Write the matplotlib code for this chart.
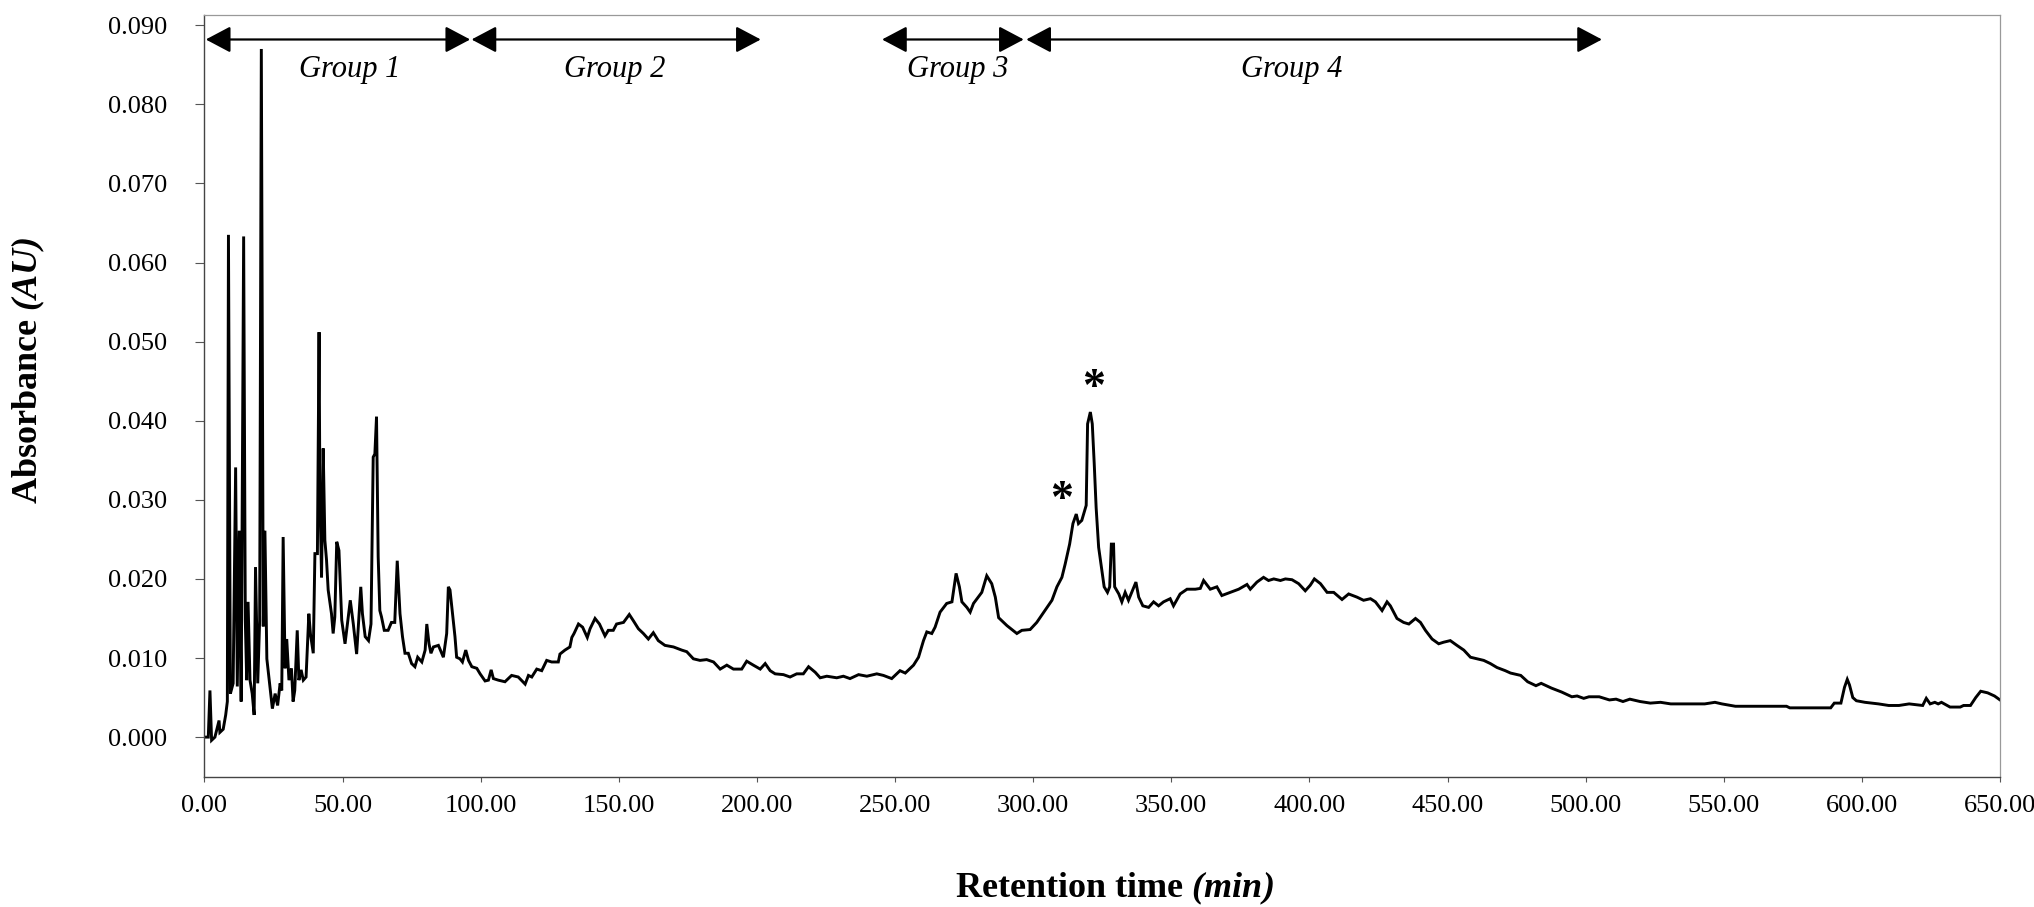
import matplotlib
matplotlib.use('Agg')
import matplotlib.pyplot as plt
from matplotlib.patches import ArrowStyle
from matplotlib.ticker import FormatStrFormatter, MultipleLocator

plt.rcParams['font.family'] = ['Liberation Serif', 'DejaVu Serif']
plt.rcParams['mathtext.fontset'] = 'custom'
plt.rcParams['mathtext.bfit'] = 'Liberation Serif:italic:bold'

# chromatogram trace (min, AU)
ret_time = [
    0.0, 1.4, 2.0, 2.6, 3.8, 5.3, 5.6, 6.8, 7.7, 8.3, 8.7, 9.4, 10.4, 11.3, 11.9,
    12.6, 13.3, 14.2, 14.8, 15.3, 15.8, 16.5, 17.3, 18.0, 18.5, 19.3, 20.0, 20.6,
    21.3, 21.9, 22.6, 23.7, 24.6, 25.6, 26.5, 27.4, 28.0, 28.5, 29.2, 29.8, 30.6,
    31.5, 32.1, 32.7, 33.6, 34.2, 35.0, 35.8, 36.8, 37.8, 38.4, 39.4, 40.0, 40.9,
    41.5, 41.8, 42.4, 43.0, 43.6, 44.2, 44.8, 46.0, 46.6, 47.2, 47.9, 48.7, 49.7,
    50.9, 52.8, 53.9, 55.1, 56.6, 57.2, 58.2, 59.4, 60.3, 61.1, 61.7, 62.3, 62.9,
    63.5, 64.1, 65.1, 66.5, 67.7, 68.9, 69.8, 70.8, 71.7, 72.6, 73.8, 75.0, 76.2,
    77.2, 78.7, 79.9, 80.5, 81.3, 82.0, 82.9, 84.7, 86.5, 87.7, 88.3, 88.9, 89.8,
    90.7, 91.3, 92.5, 93.4, 94.6, 95.6, 96.8, 98.6, 99.8, 101.6, 102.8, 103.8,
    104.6, 106.4, 108.8, 111.2, 113.6, 116.1, 117.3, 118.5, 120.3, 122.1, 123.9,
    125.7, 128.1, 128.7, 130.5, 132.3, 133.0, 133.8, 135.4, 136.9, 138.6, 139.6,
    141.4, 143.0, 145.0, 146.2, 148.0, 149.2, 151.7, 153.8, 155.3, 157.1, 158.9,
    160.7, 162.5, 164.3, 166.7, 169.8, 172.8, 174.6, 177.0, 179.4, 181.8, 184.3,
    186.7, 189.1, 191.5, 194.5, 196.3, 198.7, 201.2, 203.0, 204.8, 206.6, 209.6,
    212.0, 214.4, 216.8, 218.7, 221.1, 222.9, 225.3, 228.9, 231.3, 233.7, 236.8,
    239.8, 243.4, 245.8, 248.8, 251.8, 253.7, 256.7, 258.5, 260.3, 261.5, 263.3,
    264.5, 266.3, 268.7, 270.6, 272.1, 273.3, 274.2, 276.0, 277.2, 278.4, 281.4,
    283.2, 285.0, 286.3, 287.5, 290.5, 294.1, 295.9, 298.9, 301.3, 305.0, 306.8,
    308.6, 310.4, 311.6, 313.2, 314.4, 315.6, 316.4, 317.6, 319.2, 319.7, 320.7,
    321.4, 322.1, 322.8, 323.7, 324.9, 325.7, 326.9, 327.7, 328.3, 329.1, 329.5,
    331.0, 332.1, 333.3, 334.5, 337.2, 338.2, 339.7, 341.8, 343.6, 345.4, 347.2,
    349.6, 350.8, 353.2, 355.7, 358.7, 360.5, 361.7, 364.1, 366.5, 368.3, 371.4,
    374.4, 377.4, 378.6, 381.0, 383.4, 385.2, 387.1, 389.5, 391.3, 393.7, 396.1,
    398.5, 400.3, 401.8, 404.0, 406.4, 408.8, 411.8, 414.2, 417.2, 419.6, 422.1,
    423.9, 426.3, 428.1, 429.3, 431.7, 434.1, 436.0, 438.4, 440.2, 442.0, 444.4,
    446.8, 448.6, 451.0, 453.4, 455.9, 458.3, 460.7, 463.1, 465.5, 467.9, 470.9,
    472.8, 476.5, 479.0, 482.0, 483.9, 487.6, 491.3, 495.0, 496.9, 499.3, 501.2,
    504.9, 508.6, 511.0, 513.5, 516.0, 519.7, 523.4, 527.1, 530.8, 535.7, 543.1,
    546.8, 549.3, 554.2, 561.6, 572.7, 573.9, 588.7, 590.0, 592.4, 593.7, 594.7,
    595.5, 596.7, 598.0, 601.1, 606.0, 609.7, 613.4, 617.1, 622.0, 623.3, 624.7,
    626.4, 627.6, 628.8, 631.9, 635.6, 636.8, 639.3, 641.2, 643.0, 645.5, 648.0,
    650.0,
]
absorbance = [
    0.0000, 0.0000, 0.0059, -0.0004, 0.0000, 0.0021, 0.0006, 0.0010, 0.0028, 0.0045,
    0.0635, 0.0055, 0.0068, 0.0341, 0.0064, 0.0261, 0.0045, 0.0633, 0.0148, 0.0072,
    0.0171, 0.0072, 0.0055, 0.0028, 0.0215, 0.0068, 0.0148, 0.0870, 0.0140, 0.0261,
    0.0099, 0.0064, 0.0036, 0.0055, 0.0040, 0.0068, 0.0059, 0.0253, 0.0087, 0.0124,
    0.0072, 0.0087, 0.0045, 0.0059, 0.0135, 0.0072, 0.0085, 0.0072, 0.0076, 0.0156,
    0.0130, 0.0106, 0.0232, 0.0232, 0.0512, 0.0308, 0.0202, 0.0365, 0.0249, 0.0224,
    0.0186, 0.0156, 0.0131, 0.0152, 0.0247, 0.0236, 0.0148, 0.0118, 0.0173, 0.0143,
    0.0105, 0.0190, 0.0156, 0.0127, 0.0122, 0.0143, 0.0354, 0.0358, 0.0405, 0.0228,
    0.0160, 0.0152, 0.0135, 0.0135, 0.0145, 0.0145, 0.0223, 0.0156, 0.0127, 0.0106,
    0.0106, 0.0093, 0.0089, 0.0101, 0.0095, 0.0110, 0.0143, 0.0118, 0.0106, 0.0114,
    0.0116, 0.0101, 0.0131, 0.0190, 0.0186, 0.0156, 0.0127, 0.0101, 0.0099, 0.0095,
    0.0110, 0.0097, 0.0089, 0.0087, 0.0080, 0.0071, 0.0072, 0.0085, 0.0074, 0.0072,
    0.0070, 0.0078, 0.0076, 0.0067, 0.0078, 0.0076, 0.0086, 0.0084, 0.0097, 0.0095,
    0.0095, 0.0105, 0.0110, 0.0114, 0.0126, 0.0131, 0.0143, 0.0139, 0.0126, 0.0137,
    0.0150, 0.0143, 0.0128, 0.0135, 0.0135, 0.0143, 0.0145, 0.0155, 0.0147, 0.0137,
    0.0131, 0.0124, 0.0132, 0.0122, 0.0116, 0.0114, 0.0110, 0.0108, 0.0099, 0.0097,
    0.0098, 0.0095, 0.0086, 0.0091, 0.0086, 0.0086, 0.0096, 0.0091, 0.0086, 0.0093,
    0.0084, 0.0080, 0.0079, 0.0076, 0.0080, 0.0080, 0.0089, 0.0082, 0.0075, 0.0077,
    0.0075, 0.0077, 0.0074, 0.0079, 0.0077, 0.0080, 0.0078, 0.0074, 0.0084, 0.0081,
    0.0091, 0.0101, 0.0122, 0.0133, 0.0131, 0.0139, 0.0158, 0.0169, 0.0171, 0.0207,
    0.0190, 0.0171, 0.0164, 0.0158, 0.0169, 0.0183, 0.0204, 0.0194, 0.0177, 0.0151,
    0.0141, 0.0131, 0.0135, 0.0136, 0.0145, 0.0164, 0.0173, 0.0190, 0.0202, 0.0219,
    0.0244, 0.0270, 0.0282, 0.0270, 0.0274, 0.0293, 0.0396, 0.0411, 0.0396, 0.0346,
    0.0290, 0.0240, 0.0210, 0.0190, 0.0183, 0.0190, 0.0244, 0.0244, 0.0190, 0.0181,
    0.0171, 0.0183, 0.0173, 0.0196, 0.0177, 0.0166, 0.0164, 0.0171, 0.0166, 0.0171,
    0.0175, 0.0166, 0.0181, 0.0187, 0.0187, 0.0188, 0.0198, 0.0187, 0.0190, 0.0179,
    0.0183, 0.0187, 0.0193, 0.0187, 0.0196, 0.0202, 0.0198, 0.0200, 0.0198, 0.0200,
    0.0199, 0.0194, 0.0185, 0.0192, 0.0200, 0.0194, 0.0183, 0.0183, 0.0174, 0.0181,
    0.0177, 0.0173, 0.0175, 0.0171, 0.0160, 0.0171, 0.0166, 0.0150, 0.0145, 0.0143,
    0.0150, 0.0145, 0.0135, 0.0124, 0.0118, 0.0120, 0.0122, 0.0116, 0.0110, 0.0101,
    0.0099, 0.0097, 0.0093, 0.0088, 0.0084, 0.0081, 0.0078, 0.0070, 0.0065, 0.0068,
    0.0062, 0.0057, 0.0051, 0.0052, 0.0049, 0.0051, 0.0051, 0.0047, 0.0048, 0.0045,
    0.0048, 0.0045, 0.0043, 0.0044, 0.0042, 0.0042, 0.0042, 0.0044, 0.0042, 0.0039,
    0.0039, 0.0039, 0.0037, 0.0037, 0.0043, 0.0043, 0.0063, 0.0073, 0.0066, 0.0050,
    0.0046, 0.0044, 0.0042, 0.0040, 0.0040, 0.0042, 0.0040, 0.0049, 0.0042, 0.0044,
    0.0042, 0.0044, 0.0038, 0.0038, 0.0040, 0.0040, 0.0050, 0.0058, 0.0056, 0.0052,
    0.0047,
]

# fraction groups: name, start, end (min)
group_names = ['Group 1', 'Group 2', 'Group 3', 'Group 4']
group_start = [0.5, 96.7, 245.3, 297.5]
group_end = [96.2, 201.4, 296.6, 505.9]
group_label_x = [52.7, 148.4, 272.5, 393.5]

# starred peaks: x, y of the star
star_x = [310.4, 321.9]
star_y = [0.0299, 0.0440]

fig = plt.figure(figsize=(20.34, 9.07), dpi=100)
ax = fig.add_axes([0.1005, 0.1437, 0.8828, 0.8398])

ax.plot(ret_time, absorbance, color='black', lw=2.1, solid_joinstyle='miter')

ax.set_xlim(0, 650)
ax.set_ylim(-0.005, 0.0913)
ax.xaxis.set_major_locator(MultipleLocator(50))
ax.yaxis.set_major_locator(MultipleLocator(0.01))
ax.xaxis.set_major_formatter(FormatStrFormatter('%.2f'))
ax.yaxis.set_major_formatter(FormatStrFormatter('%.3f'))
ax.tick_params(axis='y', direction='out', length=6.5, width=0.8, pad=20,
               labelsize=19, color='#555555')
ax.tick_params(axis='x', direction='out', length=3.5, width=0.8, pad=10,
               labelsize=19, color='#555555')

for side in ['left', 'bottom']:
    ax.spines[side].set_color('#444444')
    ax.spines[side].set_linewidth(1.0)
for side in ['top', 'right']:
    ax.spines[side].set_color('#999999')
    ax.spines[side].set_linewidth(0.9)

ax.set_ylabel('Absorbance $\\mathbfit{(AU)}$', fontsize=26, fontweight='bold')
ax.yaxis.set_label_coords(-0.0874, 0.534)
ax.set_xlabel('Retention time $\\mathbfit{(min)}$', fontsize=26, fontweight='bold')
ax.xaxis.set_label_coords(0.5066, -0.122)

# group arrows
arrow_y = 0.0882
style = ArrowStyle('<|-|>', head_length=0.85, head_width=0.45)
for name, x0, x1, lx in zip(group_names, group_start, group_end, group_label_x):
    ax.annotate('', xy=(x1, arrow_y), xytext=(x0, arrow_y),
                arrowprops=dict(arrowstyle=style, mutation_scale=18,
                                color='black', lw=1.6,
                                shrinkA=0, shrinkB=0))
    ax.text(lx, 0.0844, name, fontsize=22, style='italic',
            ha='center', va='center')

for sx, sy in zip(star_x, star_y):
    ax.text(sx, sy, '*', fontsize=33, fontweight='bold', ha='center', va='center')

plt.savefig('out.png', dpi=100, facecolor='white')
